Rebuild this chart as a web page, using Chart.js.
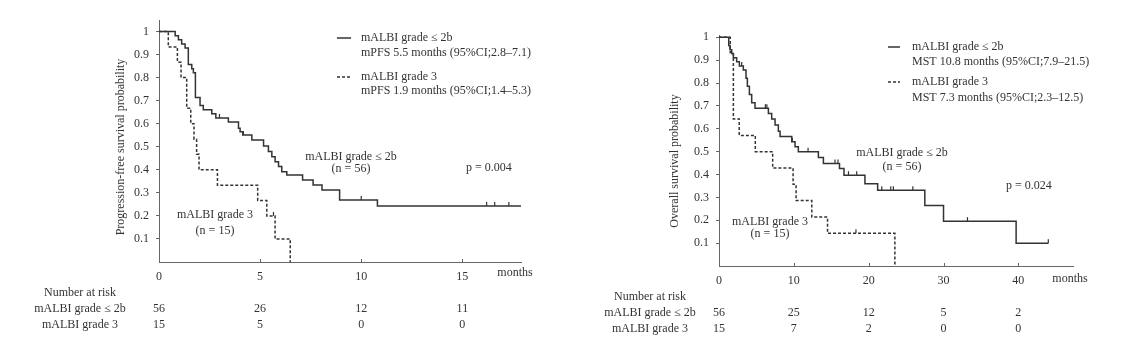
<!DOCTYPE html>
<html>
<head>
<meta charset="utf-8">
<script src="https://cdn.jsdelivr.net/npm/chart.js@4.4.1/dist/chart.umd.min.js"></script>
<style>
  html, body { margin: 0; padding: 0; background: #fff; }
  #wrap { position: relative; width: 1124px; height: 356px; overflow: hidden; background: #fff; }
  canvas { position: absolute; top: 0; }
  #c1 { left: 0; }
  #c2 { left: 562px; }
</style>
</head>
<body>
<div id="wrap">
  <canvas id="c1" width="562" height="356"></canvas>
  <canvas id="c2" width="562" height="356"></canvas>
</div>
<script>
// ---------------- DATA ----------------
// Progression-free survival (months, probability)
const pfsTimesLe2b = [0, 0.80, 0.96, 1.12, 1.29, 1.45, 1.62, 1.70, 1.80, 2.03, 2.19, 2.61, 2.81, 3.43, 3.93, 4.01, 4.14, 4.59, 5.17, 5.41, 5.58, 5.74, 5.91, 6.07, 6.32, 7.10, 7.62, 8.06, 8.93, 10.8, 17.9];
const pfsSurvLe2b  = [1, 0.982, 0.964, 0.946, 0.929, 0.857, 0.839, 0.821, 0.714, 0.679, 0.661, 0.643, 0.625, 0.607, 0.580, 0.565, 0.551, 0.529, 0.503, 0.479, 0.457, 0.435, 0.414, 0.392, 0.377, 0.356, 0.334, 0.312, 0.269, 0.243, 0.243];
const pfsCensorLe2b = [2.99, 4.17, 10.0, 16.2, 16.6, 17.3];

const pfsTimesG3 = [0, 0.46, 0.91, 1.09, 1.37, 1.57, 1.73, 1.86, 1.98, 2.89, 4.88, 5.33, 5.74, 6.49];
const pfsSurvG3  = [1, 0.933, 0.867, 0.800, 0.667, 0.600, 0.533, 0.467, 0.400, 0.333, 0.267, 0.200, 0.100, 0];
const pfsCensorG3 = [5.66];

// Overall survival (months, probability)
const osTimesLe2b = [0, 1.30, 1.47, 1.70, 1.92, 2.36, 2.72, 3.25, 3.61, 3.79, 4.06, 4.37, 4.81, 6.60, 7.04, 7.49, 7.93, 8.16, 9.72, 10.16, 10.6, 13.28, 13.95, 16.1, 16.7, 19.5, 21.2, 27.5, 30.0, 39.7, 44.0];
const osSurvLe2b  = [1, 0.964, 0.946, 0.929, 0.911, 0.893, 0.875, 0.857, 0.821, 0.786, 0.750, 0.714, 0.690, 0.667, 0.643, 0.616, 0.589, 0.566, 0.543, 0.521, 0.499, 0.474, 0.448, 0.426, 0.397, 0.360, 0.331, 0.265, 0.196, 0.100, 0.100];
const osCensorLe2b = [3.03, 6.2, 6.4, 9.8, 11.9, 15.5, 15.9, 17.3, 18.4, 21.75, 22.95, 23.3, 25.9, 33.2, 44.0];

const osTimesG3 = [0, 1.50, 1.92, 2.70, 4.85, 7.17, 9.90, 10.3, 12.4, 14.5, 23.5];
const osSurvG3  = [1, 0.933, 0.643, 0.571, 0.500, 0.429, 0.357, 0.286, 0.214, 0.143, 0];
const osCensorG3 = [18.3];

// Axis ticks and number at risk
const yTickValues = [0.1, 0.2, 0.3, 0.4, 0.5, 0.6, 0.7, 0.8, 0.9, 1];
const pfsXTicks = [0, 5, 10, 15];
const pfsRiskLe2b = [56, 26, 12, 11];
const pfsRiskG3 = [15, 5, 0, 0];
const osXTicks = [0, 10, 20, 30, 40];
const osRiskLe2b = [56, 25, 12, 5, 2];
const osRiskG3 = [15, 7, 2, 0, 0];

const groupLe2b = 'mALBI grade \u2264 2b';
const groupG3 = 'mALBI grade 3';

// ---------------- HELPERS ----------------
const FONT = "'Liberation Serif', 'Times New Roman', serif";
const INK = '#333';
const AXIS = '#666';
Chart.defaults.font.family = FONT;
Chart.defaults.font.size = 12;
Chart.defaults.color = INK;

function levelAt(times, surv, t) {
  let v = surv[0];
  for (let i = 0; i < times.length; i++) { if (times[i] <= t) v = surv[i]; }
  return v;
}
function curve(times, surv) { return times.map((t, i) => ({ x: t, y: surv[i] })); }
function censors(ct, times, surv) { return ct.map(t => ({ x: t, y: levelAt(times, surv, t) })); }

function makeChart(canvas, cfg) {
  const lineDs = (data, dashed) => ({
    data, showLine: true, stepped: true, borderColor: INK, borderWidth: 1.5,
    borderDash: dashed ? [3, 2] : [], pointRadius: 0, fill: false
  });
  const censorDs = (data) => ({
    data, showLine: false, pointStyle: 'dash', rotation: -90, pointRadius: 4,
    borderColor: INK, borderWidth: 1.2, backgroundColor: INK
  });
  const textPlugin = {
    id: 'extras',
    afterDraw(chart) {
      const ctx = chart.ctx;
      const xs = chart.scales.x;
      const ca = chart.chartArea;
      ctx.save();
      // inward x ticks
      ctx.strokeStyle = AXIS; ctx.lineWidth = 1;
      cfg.xTicks.forEach(v => {
        if (v === 0) return;
        const px = Math.round(xs.getPixelForValue(v)) + 0.5;
        ctx.beginPath(); ctx.moveTo(px, ca.bottom); ctx.lineTo(px, ca.bottom - 3); ctx.stroke();
      });
      ctx.fillStyle = INK;
      ctx.font = '12px ' + FONT;
      ctx.textBaseline = 'middle';
      // texts
      cfg.texts.forEach(tx => {
        ctx.textAlign = tx.align || 'left';
        ctx.fillText(tx.s, tx.x, tx.y);
      });
      // y title
      ctx.save();
      ctx.translate(cfg.yTitle.x, cfg.yTitle.y);
      ctx.rotate(-Math.PI / 2);
      ctx.textAlign = 'center';
      ctx.fillText(cfg.yTitle.s, 0, 0);
      ctx.restore();
      // legend symbols
      ctx.strokeStyle = INK; ctx.lineWidth = 1.5;
      cfg.legendSym.forEach(sym => {
        ctx.setLineDash(sym.dashed ? [3, 2] : []);
        ctx.beginPath(); ctx.moveTo(sym.x0, sym.y); ctx.lineTo(sym.x1, sym.y); ctx.stroke();
      });
      ctx.setLineDash([]);
      // number at risk table
      ctx.textAlign = 'center';
      ctx.fillText('Number at risk', cfg.risk.labelX, cfg.risk.y0);
      ctx.fillText(groupLe2b, cfg.risk.labelX, cfg.risk.y1);
      ctx.fillText(groupG3, cfg.risk.labelX, cfg.risk.y2);
      cfg.xTicks.forEach((v, i) => {
        const px = xs.getPixelForValue(v);
        ctx.fillText(String(cfg.riskA[i]), px, cfg.risk.y1);
        ctx.fillText(String(cfg.riskB[i]), px, cfg.risk.y2);
      });
      ctx.textAlign = 'center';
      ctx.fillText('months', cfg.months.x, cfg.months.y);
      ctx.restore();
    }
  };
  return new Chart(canvas, {
    type: 'scatter',
    data: {
      datasets: [
        lineDs(curve(cfg.tA, cfg.sA), false),
        lineDs(curve(cfg.tB, cfg.sB), true),
        censorDs(censors(cfg.cA, cfg.tA, cfg.sA)),
        censorDs(censors(cfg.cB, cfg.tB, cfg.sB))
      ]
    },
    options: {
      responsive: false, animation: false, events: [],
      layout: { padding: { left: 0, right: cfg.padRight, top: cfg.padTop, bottom: 0 } },
      plugins: { legend: { display: false }, tooltip: { enabled: false } },
      scales: {
        x: {
          type: 'linear', min: 0, max: cfg.xMax,
          afterBuildTicks: s => { s.ticks = cfg.xTicks.map(v => ({ value: v })); },
          afterFit: s => { s.height = cfg.xHeight; },
          grid: { display: false, drawTicks: false },
          border: { display: true, color: AXIS, width: 1 },
          ticks: { padding: 8, color: INK, font: { size: 12, family: FONT }, maxRotation: 0, autoSkip: false,
                   callback: v => String(v) }
        },
        y: {
          type: 'linear', min: 0, max: cfg.yMax,
          afterBuildTicks: s => { s.ticks = yTickValues.map(v => ({ value: v })); },
          afterFit: s => { s.width = cfg.yWidth; },
          grid: { display: true, drawOnChartArea: false, drawTicks: true, tickLength: 3, color: AXIS },
          border: { display: true, color: AXIS, width: 1 },
          ticks: { padding: 7, color: INK, font: { size: 12, family: FONT }, autoSkip: false,
                   callback: v => String(Math.round(v * 10) / 10) }
        }
      }
    },
    plugins: [textPlugin]
  });
}

// ---------------- LEFT: PFS ----------------
makeChart(document.getElementById('c1'), {
  tA: pfsTimesLe2b, sA: pfsSurvLe2b, cA: pfsCensorLe2b,
  tB: pfsTimesG3, sB: pfsSurvG3, cB: pfsCensorG3,
  xMax: 17.9, yMax: 1.05, xTicks: pfsXTicks, riskA: pfsRiskLe2b, riskB: pfsRiskG3,
  padRight: 41, padTop: 20, xHeight: 94, yWidth: 159,
  yTitle: { s: 'Progression-free survival probability', x: 121, y: 147 },
  legendSym: [ { x0: 337, x1: 351, y: 38, dashed: false }, { x0: 337, x1: 351, y: 77, dashed: true } ],
  texts: [
    { s: groupLe2b, x: 361, y: 38 },
    { s: 'mPFS 5.5 months (95%CI;2.8\u20137.1)', x: 361, y: 53 },
    { s: groupG3, x: 361, y: 77 },
    { s: 'mPFS 1.9 months (95%CI;1.4\u20135.3)', x: 361, y: 91 },
    { s: groupLe2b, x: 351, y: 157, align: 'center' },
    { s: '(n = 56)', x: 351, y: 169, align: 'center' },
    { s: 'p = 0.004', x: 466, y: 168 },
    { s: groupG3, x: 215, y: 215, align: 'center' },
    { s: '(n = 15)', x: 215, y: 231, align: 'center' }
  ],
  risk: { labelX: 80, y0: 293, y1: 309, y2: 325 },
  months: { x: 515, y: 273 }
});

// ---------------- RIGHT: OS ----------------
makeChart(document.getElementById('c2'), {
  tA: osTimesLe2b, sA: osSurvLe2b, cA: osCensorLe2b,
  tB: osTimesG3, sB: osSurvG3, cB: osCensorG3,
  xMax: 47.3, yMax: 1.01, xTicks: osXTicks, riskA: osRiskLe2b, riskB: osRiskG3,
  padRight: 51, padTop: 35, xHeight: 90, yWidth: 157,
  yTitle: { s: 'Overall survival probability', x: 113, y: 161 },
  legendSym: [ { x0: 326, x1: 338, y: 47, dashed: false }, { x0: 326, x1: 338, y: 82, dashed: true } ],
  texts: [
    { s: groupLe2b, x: 350, y: 47 },
    { s: 'MST 10.8 months (95%CI;7.9\u201321.5)', x: 350, y: 62 },
    { s: groupG3, x: 350, y: 82 },
    { s: 'MST 7.3 months (95%CI;2.3\u201312.5)', x: 350, y: 98 },
    { s: groupLe2b, x: 340, y: 153, align: 'center' },
    { s: '(n = 56)', x: 340, y: 167, align: 'center' },
    { s: 'p = 0.024', x: 444, y: 186 },
    { s: groupG3, x: 208, y: 222, align: 'center' },
    { s: '(n = 15)', x: 208, y: 234, align: 'center' }
  ],
  risk: { labelX: 88, y0: 297, y1: 313, y2: 329 },
  months: { x: 508, y: 279 }
});
</script>
</body>
</html>
